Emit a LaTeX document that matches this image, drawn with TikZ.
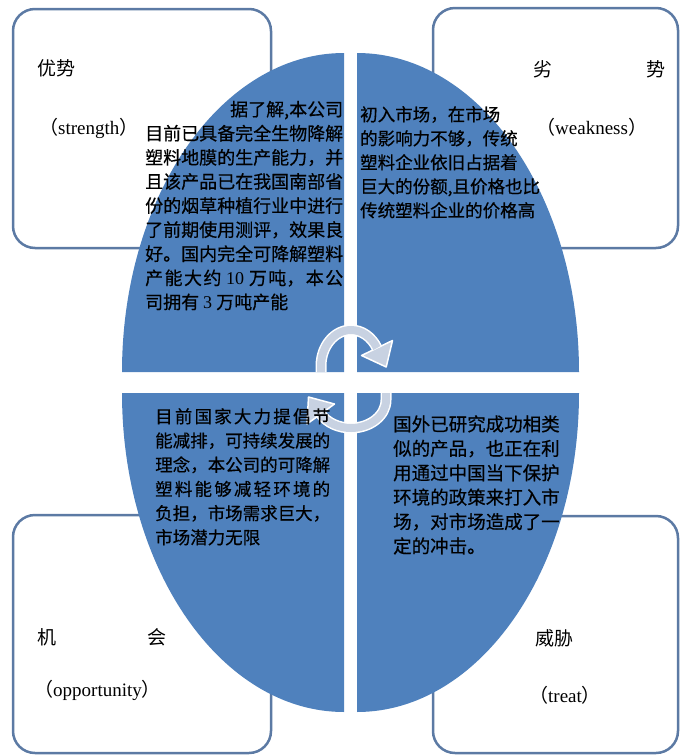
\documentclass[tikz,border=0pt]{standalone}
\usepackage{fontspec}
\setmainfont{Liberation Serif}
\newfontfamily\cjk{Noto Sans CJK SC}
\newfontfamily\cjkb[FakeBold=0.5]{Noto Sans CJK SC}
\XeTeXlinebreaklocale "zh"
\XeTeXlinebreakskip=0pt plus 4pt minus 0.5pt
\definecolor{quadblue}{RGB}{79,129,189}
\definecolor{boxline}{RGB}{92,122,164}
\definecolor{arrowfill}{RGB}{200,210,226}
\tikzset{
  swotbox/.style={draw=boxline, line width=2.5pt, fill=white, rounded corners=22pt, inner sep=0pt},
  quad/.style={fill=quadblue},
  lbl/.style={anchor=west, inner sep=0pt, font=\cjk\fontsize{19pt}{22pt}\selectfont},
  qtext/.style={anchor=base west, inner sep=0pt},
  arrowedge/.style={line width=11pt, white},
  arrowbody/.style={line width=8pt, arrowfill},
  arrowhead/.style={fill=arrowfill, draw=white, line width=1.5pt, line join=round},
}
\begin{document}
\begin{tikzpicture}[x=1pt,y=-1pt]
\useasboundingbox (0,0) rectangle (681,756);
% four boxes
\node[swotbox, minimum width=258pt, minimum height=239pt] (sbox) at (142,128.5) {};
\node[swotbox, minimum width=245pt, minimum height=240pt] (wbox) at (555.5,128) {};
\node[swotbox, minimum width=258pt, minimum height=238pt] (obox) at (142,634) {};
\node[swotbox, minimum width=245pt, minimum height=237pt] (tbox) at (555.5,634.5) {};
% box labels
\node[lbl] (slabel) at (37,68) {优势};
\node[lbl] (sen) at (39,128) {（{\rmfamily strength}）};
\node[lbl] (wlabel) at (533,69) {劣\hspace{94pt}势};
\node[lbl] (wen) at (536,127) {（{\rmfamily weakness}）};
\node[lbl] (olabel) at (37,637) {机\hspace{91pt}会};
\node[lbl] (oen) at (34,690) {（{\rmfamily opportunity}）};
\node[lbl] (tlabel) at (535,638) {威胁};
\node[lbl] (ten) at (529,695) {（{\rmfamily treat}）};
% ellipse quadrants
\fill[quad] (344,372) -- (122,372) arc[start angle=180, end angle=270, x radius=222, y radius=319] -- cycle;
\fill[quad] (357,372) -- (357,53) arc[start angle=270, end angle=360, x radius=222, y radius=319] -- cycle;
\fill[quad] (344,393) -- (344,712) arc[start angle=90, end angle=180, x radius=222, y radius=319] -- cycle;
\fill[quad] (357,393) -- (579,393) arc[start angle=0, end angle=90, x radius=222, y radius=319] -- cycle;
% cycle arrows
\draw[arrowedge] (321,372) -- (321,366) arc[start angle=180, end angle=330, x radius=30, y radius=36];
\filldraw[arrowhead] (392.5,340.5) -- (386.2,367) -- (361.5,355.5) -- cycle;
\draw[arrowbody] (321,372) -- (321,366) arc[start angle=180, end angle=330, x radius=30, y radius=36];
\draw[arrowedge] (386,393) -- (386,400) arc[start angle=0, end angle=150, x radius=35, y radius=28];
\filldraw[arrowhead] (334.5,404) -- (308.5,397) -- (307,424) -- cycle;
\draw[arrowbody] (386,393) -- (386,400) arc[start angle=0, end angle=150, x radius=35, y radius=28];
% quadrant texts
\node[qtext, text width=198pt, align=justify, font=\cjkb\fontsize{18pt}{24.1pt}\selectfont] (stext) at (145,116) {\hspace*{\fill}据了解,本公司\linebreak 目前已具备完全生物降解\linebreak 塑料地膜的生产能力，并\linebreak 且该产品已在我国南部省\linebreak 份的烟草种植行业中进行\linebreak 了前期使用测评，效果良\linebreak 好。国内完全可降解塑料\linebreak 产能大约 {\rmfamily 10} 万吨，本公\linebreak 司拥有 {\rmfamily 3} 万吨产能};
\node[qtext, text width=240pt, align=left, font=\cjkb\fontsize{17.5pt}{24pt}\selectfont] (wtext) at (360,121) {初入市场，在市场\\的影响力不够，传统\\塑料企业依旧占据着\\巨大的份额,且价格也比\\传统塑料企业的价格高};
\node[qtext, text width=175pt, align=justify, font=\cjkb\fontsize{17.5pt}{24.2pt}\selectfont] (otext) at (155,423) {目前国家大力提倡节\linebreak 能减排，可持续发展的\linebreak 理念，本公司的可降解\linebreak 塑料能够减轻环境的\linebreak 负担，市场需求巨大，\linebreak 市场潜力无限};
\node[qtext, text width=240pt, align=left, font=\cjkb\fontsize{18.5pt}{24.4pt}\selectfont] (ttext) at (393,431) {国外已研究成功相类\\似的产品，也正在利\\用通过中国当下保护\\环境的政策来打入市\\场，对市场造成了一\\定的冲击。};
\end{tikzpicture}
\end{document}
